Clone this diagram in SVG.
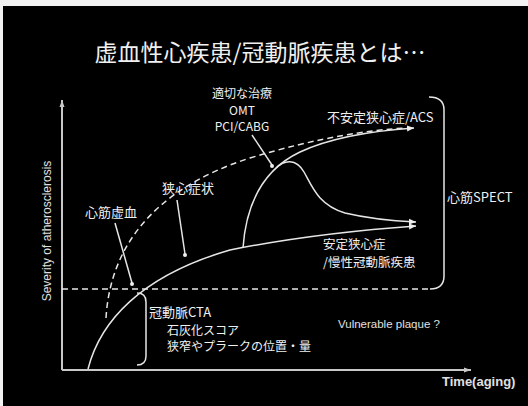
<svg xmlns="http://www.w3.org/2000/svg" width="528" height="406" viewBox="0 0 528 406">
<style>
.jp{font-family:"Noto Sans CJK JP","Noto Sans",sans-serif;fill:#f0f0f0}
.en{font-family:"Liberation Sans",Arial,sans-serif;fill:#e0e0e0}
.ln{fill:none;stroke:#e6e6e6;stroke-width:1.5}
.dash{fill:none;stroke:#e6e6e6;stroke-width:1.5;stroke-dasharray:6 4}
.ax{fill:none;stroke:#c8c8c8;stroke-width:2}
</style>
<defs>
<marker id="ah" markerWidth="8" markerHeight="8" refX="7" refY="4" orient="auto" markerUnits="userSpaceOnUse">
<path d="M0,1 L7,4 L0,7 Z" fill="#eeeeee"/>
</marker>
<marker id="ax" markerWidth="8" markerHeight="8" refX="7" refY="4" orient="auto" markerUnits="userSpaceOnUse">
<path d="M0,1.5 L7,4 L0,6.5 Z" fill="#c8c8c8"/>
</marker>
</defs>
<rect x="0" y="0" width="528" height="406" fill="#f2f2f2"/>
<rect x="3" y="6" width="525" height="400" fill="#000"/>

<g id="title"><text class="jp" x="260" y="61" font-size="23" text-anchor="middle">虚血性心疾患/冠動脈疾患とは…</text></g>

<g id="axes">
<path class="ax" d="M62,370 L62,100" marker-end="url(#ax)"/>
<path class="ax" d="M62,370 L471,370" marker-end="url(#ax)"/>
<text class="en" transform="translate(51,231) rotate(-90)" font-size="12" text-anchor="middle">Severity of atherosclerosis</text>
<text class="en" x="442" y="386" font-size="13" font-weight="bold">Time(aging)</text>
</g>

<g id="connectors">
<path class="ln" d="M88,369 C100,322 140,276 230,250 C300,236 360,230 416,226" marker-end="url(#ah)"/>
<path class="dash" d="M106,318 C110,250 150,190 250,158 C320,137 370,130 405,128"/>
<path class="ln" d="M243,248 C246,205 262,170 300,152 C330,138 370,131 414,128" marker-end="url(#ah)"/>
<path class="ln" d="M276,168 C284,160 296,158 304,172 C312,186 318,205 345,213 C370,219 395,221 416,222" marker-end="url(#ah)"/>
<path class="dash" d="M62,289 L430,289"/>
<path class="ln" d="M430,289 Q444,289 444,276 L444,110 Q444,97 429,97"/>
<path class="ln" d="M137,293 Q146,293 146,302 L146,356 Q146,365 137,365"/>
<path class="ln" d="M115,223 L132,283"/>
<circle cx="132" cy="284" r="2" fill="#eee"/>
<path class="ln" d="M177,200 L185,254"/>
<circle cx="185" cy="255" r="2" fill="#eee"/>
<path class="ln" d="M252,135 L272,165"/>
<circle cx="272" cy="166" r="2" fill="#eee"/>
</g>

<g id="n-ischemia"><text class="jp" x="85" y="217" font-size="13">心筋虚血</text></g>
<g id="n-angina-sym"><text class="jp" x="162" y="193" font-size="13">狭心症状</text></g>
<g id="n-therapy">
<text class="jp" x="242" y="98" font-size="12" text-anchor="middle">適切な治療</text>
<text class="jp" x="242" y="115" font-size="12" text-anchor="middle">OMT</text>
<text class="jp" x="242" y="131" font-size="12" text-anchor="middle">PCI/CABG</text>
</g>
<g id="n-acs"><text class="jp" x="327" y="122" font-size="13">不安定狭心症/ACS</text></g>
<g id="n-stable">
<text class="jp" x="323" y="249" font-size="12.5">安定狭心症</text>
<text class="jp" x="323" y="267" font-size="12.5">/慢性冠動脈疾患</text>
</g>
<g id="n-spect"><text class="jp" x="447" y="202" font-size="13">心筋SPECT</text></g>
<g id="n-cta">
<text class="jp" x="149" y="317" font-size="13">冠動脈CTA</text>
<text class="jp" x="167" y="335" font-size="12">石灰化スコア</text>
<text class="jp" x="167" y="351" font-size="12">狭窄やプラークの位置・量</text>
</g>
<g id="n-vulnerable"><text class="en" x="338" y="328" font-size="11.5">Vulnerable plaque ?</text></g>
</svg>
